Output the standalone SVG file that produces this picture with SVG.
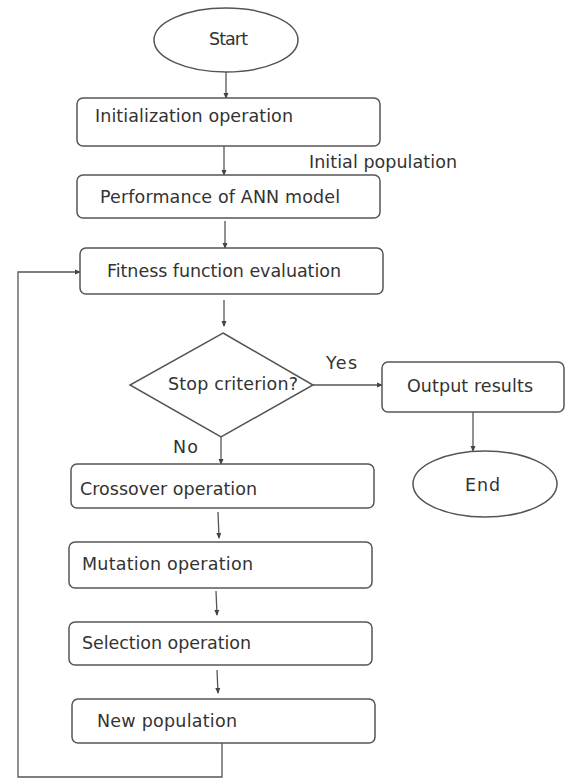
<svg xmlns="http://www.w3.org/2000/svg" width="568" height="779" viewBox="0 0 568 779">
<style>
.n{fill:#fff;stroke:#555;stroke-width:1.5}
.t{font-family:"DejaVu Sans",Verdana,sans-serif;font-size:17.5px;fill:#333}
.c{fill:none;stroke:#555;stroke-width:1.3}
</style>
<defs>
<marker id="ah" markerUnits="userSpaceOnUse" markerWidth="6" markerHeight="6" refX="5" refY="3" orient="auto">
<path d="M0,0.5 L6,3 L0,5.5 z" fill="#444"/>
</marker>
</defs>
<rect width="568" height="779" fill="#fff"/>
<g id="connectors">
<line class="c" x1="226" y1="72" x2="226" y2="98" marker-end="url(#ah)"/>
<line class="c" x1="224" y1="146" x2="224" y2="175" marker-end="url(#ah)"/>
<line class="c" x1="225" y1="221" x2="225" y2="248" marker-end="url(#ah)"/>
<line class="c" x1="224" y1="300" x2="224" y2="326" marker-end="url(#ah)"/>
<line class="c" x1="313" y1="385" x2="382" y2="385" marker-end="url(#ah)"/>
<line class="c" x1="473" y1="412" x2="473" y2="451" marker-end="url(#ah)"/>
<line class="c" x1="221" y1="437" x2="221" y2="464" marker-end="url(#ah)"/>
<line class="c" x1="218" y1="512" x2="219" y2="538" marker-end="url(#ah)"/>
<line class="c" x1="216" y1="591" x2="217" y2="615" marker-end="url(#ah)"/>
<line class="c" x1="217" y1="670" x2="218" y2="693" marker-end="url(#ah)"/>
<polyline class="c" points="222,743 222,777 18,777 18,272 80,272" marker-end="url(#ah)"/>
</g>
<g id="start"><ellipse class="n" cx="226" cy="40" rx="72" ry="32"/><text class="t" x="209" y="45" textLength="39">Start</text></g>
<g id="init"><rect class="n" x="77" y="98" width="303" height="48" rx="6"/><text class="t" x="95" y="122" textLength="198">Initialization operation</text></g>
<g id="initlabel"><text class="t" x="309" y="168" textLength="148">Initial population</text></g>
<g id="perf"><rect class="n" x="77" y="175" width="303" height="43" rx="6"/><text class="t" x="100" y="203" textLength="240">Performance of ANN model</text></g>
<g id="fitness"><rect class="n" x="80" y="248" width="303" height="46" rx="6"/><text class="t" x="107" y="277" textLength="234">Fitness function evaluation</text></g>
<g id="stop"><polygon class="n" points="223,333 313,385 221,437 130,385"/><text class="t" x="168" y="390" textLength="130">Stop criterion?</text></g>
<g id="yes"><text class="t" x="326" y="369" textLength="31">Yes</text></g>
<g id="no"><text class="t" x="173" y="453" textLength="25">No</text></g>
<g id="output"><rect class="n" x="382" y="362" width="182" height="50" rx="6"/><text class="t" x="407" y="392" textLength="126">Output results</text></g>
<g id="end"><ellipse class="n" cx="485" cy="484" rx="72" ry="33"/><text class="t" x="465" y="491" textLength="35">End</text></g>
<g id="crossover"><rect class="n" x="71" y="464" width="303" height="44" rx="6"/><text class="t" x="80" y="495" textLength="177">Crossover operation</text></g>
<g id="mutation"><rect class="n" x="69" y="542" width="303" height="46" rx="6"/><text class="t" x="82" y="570" textLength="171">Mutation operation</text></g>
<g id="selection"><rect class="n" x="69" y="622" width="303" height="43" rx="6"/><text class="t" x="82" y="649" textLength="169">Selection operation</text></g>
<g id="newpop"><rect class="n" x="72" y="699" width="303" height="44" rx="6"/><text class="t" x="97" y="727" textLength="140">New population</text></g>
</svg>
